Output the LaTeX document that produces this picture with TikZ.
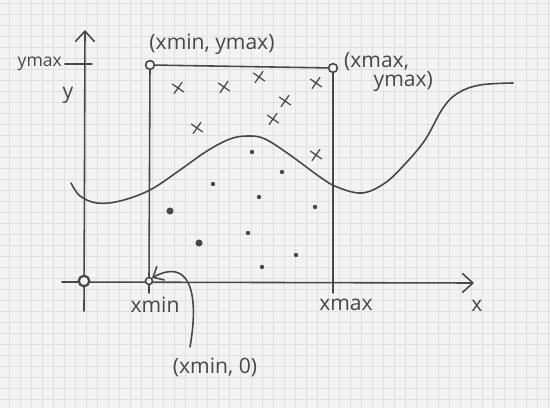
\documentclass[tikz,border=0pt]{standalone}
\usepackage{fontspec}
\setmainfont{Open Sans}
\usetikzlibrary{shapes.misc,arrows.meta,positioning}

\definecolor{paper}{RGB}{243,243,243}
\definecolor{paperline}{RGB}{224,224,224}
\definecolor{ink}{RGB}{72,72,72}

\begin{document}
\begin{tikzpicture}[
    x=0.02cm, y=-0.02cm,
    pen/.style={draw=ink, line width=0.9pt, line cap=round, line join=round},
    axis/.style={pen, -{Straight Barb[length=6pt, width=11pt]}},
    gridline/.style={draw=paperline, line width=0.4pt},
    corner/.style={circle, draw=ink, fill=paper, line width=0.9pt, minimum size=5pt, inner sep=0pt},
    xmark/.style={cross out, draw=ink, line width=0.7pt, minimum size=5pt, inner sep=0pt, rotate=10},
    dotmark/.style={circle, fill=ink, minimum size=2.5pt, inner sep=0pt},
    lbl/.style={text=ink, font=\large, inner sep=1pt}
]
    \fill[paper] (0,0) rectangle (550,408);
    \useasboundingbox (0,0) rectangle (550,408);
    \foreach \gx in {9,20,...,548} \draw[gridline] (\gx,0) -- (\gx,408);
    \foreach \gy in {3,14,...,406} \draw[gridline] (0,\gy) -- (550,\gy);

    % axes
    \coordinate (ybottom) at (84,311);
    \coordinate (ytop) at (85,30);
    \coordinate (xleft) at (62,282);
    \coordinate (xright) at (474,283);
    \draw[axis] (ybottom) -- (ytop);
    \draw[axis] (xleft) -- (xright);
    \node[corner, line width=1.3pt, minimum size=6pt] (origin) at (84,281) {};

    % box
    \node[corner] (topleft) at (150,65) {};
    \node[corner] (topright) at (333,68) {};
    \node[corner, minimum size=4pt] (xminpt) at (149,281) {};
    \coordinate (xmaxpt) at (333,281);
    \coordinate (xmintick) at (149,293);
    \coordinate (xmaxtick) at (333,293);
    \draw[pen] (xminpt) -- (topleft) -- (topright) -- (xmaxpt) -- (xmaxtick);
    \draw[pen] (xminpt) -- (xmintick);

    \coordinate (ymaxleft) at (65,64);
    \coordinate (ymaxright) at (92,64);
    \draw[pen] (ymaxleft) -- (ymaxright);

    % labels
    \node[lbl, font=\normalsize, anchor=east] (ymaxlbl) at (64,64) {ymax};
    \node[lbl] (ylbl) at (68,95) {y};
    \node[lbl] (topleftlbl) at (212,44) {(xmin, ymax)};
    \node[lbl, align=left, anchor=west] (toprightlbl) at (342,72) {(xmax,\\[-3pt]\hspace{1.4em}ymax)};
    \node[lbl] (xminlbl) at (155,305) {xmin};
    \node[lbl] (xmaxlbl) at (346,305) {xmax};
    \node[lbl] (xlbl) at (477,306) {x};
    \node[lbl] (zerolbl) at (215,367) {(xmin, 0)};

    \coordinate (calloutstart) at (190,347);
    \draw[pen, -{Straight Barb[length=5pt, width=9pt]}] (calloutstart) .. controls (200,290) and (188,258) .. (xminpt.north east);

    % curve
    \draw[pen] plot[smooth, tension=0.6] coordinates {(71,183) (80,196) (97,203) (120,201) (150,190) (180,170) (207,151) (230,139) (248,136) (265,139) (290,155) (320,177) (337,187) (362,193) (385,183) (405,164) (425,140) (443,108) (458,93) (480,85) (513,83)};

    % samples
    \foreach \px/\py [count=\i] in {178/88, 224/87, 259/77, 316/83, 285/101, 273/119, 197/128, 316/155}
        \node[xmark] (cross\i) at (\px,\py) {};
    \foreach \px/\py [count=\i] in {252/152, 282/172, 213/184, 259/197, 315/207, 248/233, 296/255, 262/267}
        \node[dotmark] (dot\i) at (\px,\py) {};
    \node[dotmark, minimum size=4pt] (bigdot1) at (170,211) {};
    \node[dotmark, minimum size=4pt] (bigdot2) at (199,243) {};
\end{tikzpicture}
\end{document}
